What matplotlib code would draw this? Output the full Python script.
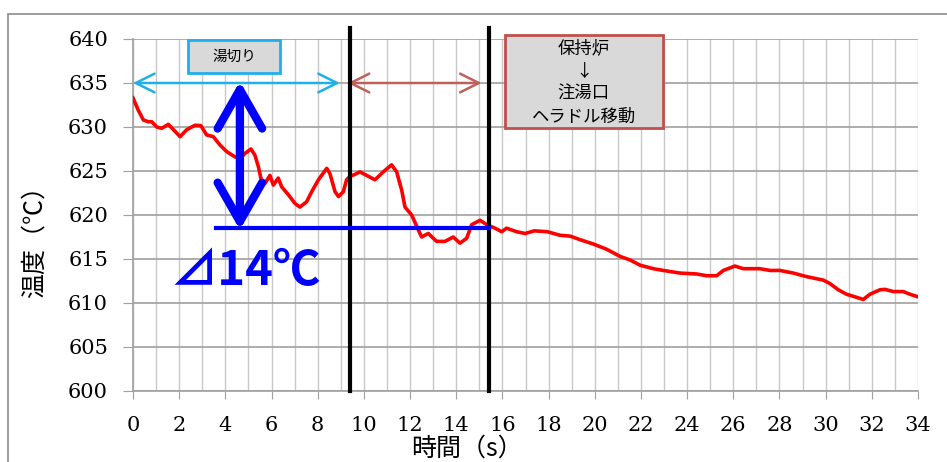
import matplotlib
matplotlib.use('Agg')
import matplotlib.pyplot as plt
from matplotlib.patches import Rectangle
from matplotlib.ticker import MultipleLocator

plt.rcParams['font.family'] = ['Noto Sans CJK JP', 'DejaVu Sans']

# temperature trace
time_s = [0, 0.23, 0.45, 0.66, 0.81, 1.03, 1.24, 1.53, 1.75, 2.04, 2.33, 2.69, 2.94,
          3.19, 3.48, 3.77, 4.06, 4.42, 4.63, 4.85, 5.11, 5.28, 5.43, 5.57, 5.72,
          5.93, 6.08, 6.29, 6.44, 6.73, 7.02, 7.23, 7.52, 7.74, 8.03, 8.39, 8.53,
          8.75, 8.9, 9.11, 9.25, 9.4, 9.6, 9.83, 10.12, 10.48, 10.84, 11.2, 11.42,
          11.64, 11.78, 12.07, 12.36, 12.5, 12.79, 13.15, 13.51, 13.87, 14.16,
          14.45, 14.67, 15.03, 15.32, 15.68, 15.97, 16.18, 16.62, 16.98, 17.38,
          17.95, 18.49, 18.93, 19.36, 19.94, 20.52, 21.09, 21.52, 21.96, 22.53,
          22.97, 23.69, 24.41, 24.85, 25.28, 25.57, 26.07, 26.43, 27.15, 27.59,
          28.02, 28.6, 29.17, 29.9, 30.19, 30.55, 30.9, 31.27, 31.63, 31.92,
          32.35, 32.57, 32.93, 33.36, 33.65, 34.0]
temp_c = [633.3, 631.9, 630.8, 630.6, 630.6, 630.0, 629.85, 630.3, 629.7, 628.9,
          629.7, 630.2, 630.15, 629.1, 628.9, 627.95, 627.2, 626.6, 626.4, 627.0,
          627.5, 626.8, 625.5, 623.8, 623.6, 624.5, 623.4, 624.2, 623.2, 622.3,
          621.3, 620.9, 621.5, 622.65, 624.0, 625.3, 624.7, 622.65, 622.1, 622.65,
          624.0, 624.4, 624.6, 624.9, 624.5, 624.0, 624.9, 625.7, 624.9, 622.8,
          620.9, 620.0, 618.3, 617.5, 617.9, 617.0, 617.0, 617.5, 616.8, 617.35,
          618.9, 619.4, 618.9, 618.5, 618.1, 618.5, 618.1, 617.9, 618.2, 618.1,
          617.7, 617.6, 617.2, 616.7, 616.1, 615.3, 614.9, 614.3, 613.9, 613.7,
          613.4, 613.3, 613.1, 613.1, 613.7, 614.2, 613.9, 613.9, 613.7, 613.7,
          613.4, 613.0, 612.6, 612.2, 611.5, 611.0, 610.7, 610.4, 611.0, 611.5,
          611.55, 611.3, 611.3, 611.0, 610.7]

phase_lines = [9.4, 15.4]
drop_top = 635.2
drop_bottom = 618.5
drop_label = '⊿14℃'
box1_text = '湯切り'
box2_lines = ['保持炉', '↓', '注湯口', 'ヘラドル移動']

fig = plt.figure(figsize=(9.47, 4.62), dpi=100)
ax = fig.add_axes([133/947, 1-391/462, 785/947, 352/462])

# outer frame
fig.patches.append(Rectangle((8/947, -0.5), 1.5, 1.5 - 14/462,
                             transform=fig.transFigure, fill=False,
                             edgecolor='#8c8c8c', lw=1.2))

ax.set_xlim(0, 34)
ax.set_ylim(600, 640)
ax.xaxis.set_major_locator(MultipleLocator(2))
ax.xaxis.set_minor_locator(MultipleLocator(1))
ax.yaxis.set_major_locator(MultipleLocator(5))
ax.grid(axis='x', which='both', color='#c8c8c8', lw=1.0)
ax.grid(axis='y', which='major', color='#a0a0a0', lw=1.2)
ax.set_axisbelow(True)
for s in ['top', 'right']:
    ax.spines[s].set_visible(False)
for s in ['left', 'bottom']:
    ax.spines[s].set_color('#a0a0a0')
    ax.spines[s].set_linewidth(1.2)
ax.tick_params(axis='x', which='major', length=6, color='#a0a0a0', pad=12,
               labelsize=15)
ax.tick_params(axis='x', which='minor', length=0)
ax.tick_params(axis='y', length=7, color='#a0a0a0', pad=11, labelsize=15)
for lab in ax.get_xticklabels() + ax.get_yticklabels():
    lab.set_family('DejaVu Serif')

ax.plot(time_s, temp_c, color='#ff0000', lw=2.6, zorder=3)

for xv in phase_lines:
    ax.plot([xv, xv], [600, 641.3], color='black', lw=3, clip_on=False, zorder=4)

# phase arrows
ax.annotate('', xy=(0, 635), xytext=(8.96, 635),
            arrowprops=dict(arrowstyle='<->,head_length=0.9,head_width=0.45',
                            color='#1fb0ea', lw=1.8, mutation_scale=15,
                            shrinkA=0, shrinkB=0))
ax.annotate('', xy=(9.3, 635), xytext=(15.1, 635),
            arrowprops=dict(arrowstyle='<->,head_length=0.9,head_width=0.45',
                            color='#c0605a', lw=1.8, mutation_scale=15,
                            shrinkA=0, shrinkB=0))

# boxes
ax.add_patch(Rectangle((2.38, 636.1), 3.99, 3.8, facecolor='#d9d9d9',
                       edgecolor='#1fb0ea', lw=2, zorder=5))
ax.text(4.37, 638.0, box1_text, ha='center', va='center', fontsize=10.5, zorder=6)
ax.add_patch(Rectangle((16.11, 629.9), 6.84, 10.55, facecolor='#d9d9d9',
                       edgecolor='#c0504d', lw=2, zorder=5, clip_on=False))
for txt, yv in zip(box2_lines, [639.0, 636.2, 633.8, 631.1]):
    ax.text(19.53, yv, txt, ha='center', va='center', fontsize=12.5, zorder=6)

# temperature drop marker
ax.plot([3.58, 15.4], [drop_bottom, drop_bottom], color='#0000ff', lw=3, zorder=4)
ax.annotate('', xy=(4.63, drop_top), xytext=(4.63, 618.3),
            arrowprops=dict(arrowstyle='<->,head_length=1.4,head_width=0.8',
                            color='#0000ff', lw=6, mutation_scale=20,
                            shrinkA=0, shrinkB=0, capstyle='round',
                            joinstyle='round'), zorder=5)
ax.text(1.6, 612.0, drop_label, ha='left', va='baseline', fontsize=34,
        fontweight='bold', color='#0000ff', zorder=6)

fig.text(467/947, 1-449/462, '時間（s）', ha='center', va='center', fontsize=18)
fig.text(35/947, 1-235/462, '温度（℃）', ha='center', va='center', fontsize=18,
         rotation=90)

fig.savefig('out.png', dpi=100)
